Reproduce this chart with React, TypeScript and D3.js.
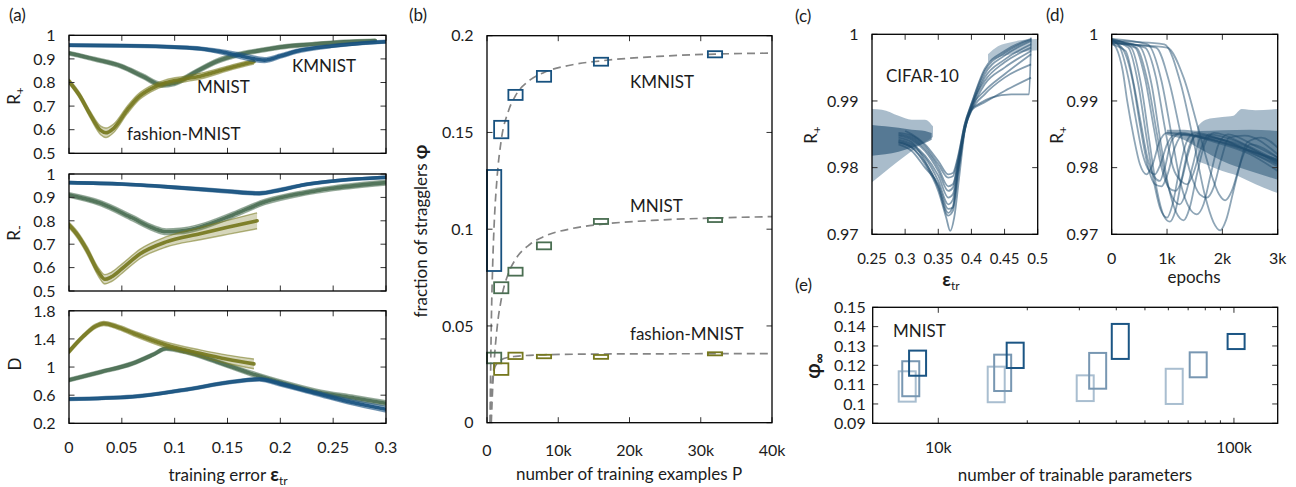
import React from 'react';
import * as d3 from 'd3';

type P2 = [number, number];
type P3 = [number, number, number];

const FONT = "Lato, 'Open Sans', 'DejaVu Sans', sans-serif";
const INK = '#1c1c1c';
const TICK = '#333';
const BLUE = '#17517f';
const GREEN = '#4a6e52';
const OLIVE = '#76781e';
const CIFAR = '#1f4d6f';
const DASH = '#858585';

// ---------------- (a) ----------------
const aXTicks = [0, 0.05, 0.1, 0.15, 0.2, 0.25, 0.3];
const rTicks = [0.5, 0.6, 0.7, 0.8, 0.9, 1];
const dTicks = [0.2, 0.6, 1, 1.4, 1.8];
// [training error, value, bundle half-width]
const kmnistRplus: P3[] = [[0,0.958,0.006],[0.05,0.956,0.006],[0.1,0.95,0.006],[0.125,0.943,0.007],[0.15,0.925,0.01],[0.17,0.905,0.012],[0.185,0.895,0.01],[0.2,0.912,0.009],[0.215,0.932,0.008],[0.25,0.955,0.006],[0.3,0.973,0.006]];
const mnistRplus: P3[] = [[0,0.924,0.008],[0.025,0.898,0.008],[0.05,0.868,0.009],[0.07,0.826,0.01],[0.088,0.79,0.01],[0.1,0.797,0.01],[0.12,0.845,0.01],[0.14,0.89,0.01],[0.16,0.918,0.009],[0.18,0.935,0.008],[0.2,0.95,0.008],[0.23,0.962,0.007],[0.26,0.972,0.007],[0.29,0.978,0.006]];
const fashionRplus: P3[] = [[0,0.805,0.01],[0.01,0.745,0.012],[0.02,0.665,0.014],[0.03,0.597,0.018],[0.035,0.587,0.02],[0.042,0.605,0.018],[0.055,0.683,0.016],[0.065,0.735,0.014],[0.077,0.772,0.013],[0.092,0.8,0.012],[0.11,0.815,0.012],[0.125,0.828,0.012],[0.155,0.866,0.01],[0.175,0.888,0.01]];
const kmnistRminus: P3[] = [[0,0.963,0.005],[0.05,0.957,0.005],[0.1,0.943,0.006],[0.15,0.926,0.007],[0.18,0.917,0.007],[0.2,0.932,0.007],[0.22,0.952,0.006],[0.25,0.97,0.005],[0.3,0.986,0.005]];
const mnistRminus: P3[] = [[0,0.91,0.01],[0.03,0.875,0.011],[0.06,0.812,0.012],[0.08,0.768,0.012],[0.092,0.753,0.012],[0.105,0.756,0.012],[0.125,0.775,0.012],[0.155,0.825,0.012],[0.185,0.88,0.011],[0.22,0.917,0.01],[0.25,0.939,0.01],[0.3,0.963,0.01]];
const fashionRminus: P3[] = [[0,0.782,0.012],[0.008,0.74,0.014],[0.017,0.675,0.016],[0.028,0.58,0.018],[0.034,0.55,0.02],[0.04,0.56,0.02],[0.05,0.595,0.02],[0.067,0.658,0.02],[0.092,0.71,0.022],[0.124,0.745,0.026],[0.15,0.772,0.03],[0.178,0.8,0.034]];
const kmnistD: P3[] = [[0,0.545,0.02],[0.06,0.578,0.02],[0.108,0.673,0.02],[0.155,0.79,0.022],[0.18,0.826,0.025],[0.2,0.76,0.03],[0.234,0.626,0.03],[0.265,0.507,0.035],[0.3,0.4,0.04]];
const mnistD: P3[] = [[0,0.816,0.025],[0.03,0.93,0.025],[0.06,1.05,0.025],[0.08,1.18,0.025],[0.092,1.265,0.025],[0.11,1.22,0.03],[0.14,1.076,0.03],[0.172,0.91,0.035],[0.203,0.77,0.035],[0.234,0.65,0.035],[0.27,0.56,0.035],[0.3,0.485,0.035]];
const fashionD: P3[] = [[0,1.22,0.03],[0.013,1.43,0.03],[0.025,1.58,0.03],[0.033,1.62,0.03],[0.045,1.575,0.03],[0.061,1.48,0.035],[0.092,1.313,0.04],[0.124,1.195,0.05],[0.15,1.11,0.06],[0.175,1.045,0.07]];

// ---------------- (b) ----------------
const bXTicks = [0, 10000, 20000, 30000, 40000];
const bYTicks = [0, 0.05, 0.1, 0.15, 0.2];
const straggP = [1000, 2000, 4000, 8000, 16000, 32000];
const kmnistLo = [0.0784, 0.147, 0.1668, 0.1762, 0.1845, 0.1888];
const kmnistHi = [0.1306, 0.156, 0.172, 0.1818, 0.1886, 0.192];
const mnistLo = [0.0307, 0.0669, 0.076, 0.0896, 0.1027, 0.1037];
const mnistHi = [0.0362, 0.0726, 0.0801, 0.0932, 0.1053, 0.1058];
const fashionP = [2000, 4000, 8000, 16000, 32000];
const fashionLo = [0.0247, 0.0329, 0.0333, 0.033, 0.0348];
const fashionHi = [0.0307, 0.0362, 0.0351, 0.035, 0.0364];
const kmnistFit: P2[] = [[420,0],[600,0.05],[800,0.082],[1000,0.102],[1400,0.126],[2000,0.146],[3000,0.161],[4000,0.169],[6000,0.177],[8000,0.181],[12000,0.185],[16000,0.187],[24000,0.1893],[32000,0.1905],[40000,0.191]];
const mnistFit: P2[] = [[600,0],[800,0.0182],[1000,0.0312],[1400,0.0485],[2000,0.0637],[3000,0.0771],[4000,0.0844],[6000,0.0921],[8000,0.0962],[12000,0.1004],[16000,0.1025],[24000,0.1047],[32000,0.1058],[40000,0.1065]];
const fashionFit: P2[] = [[500,0],[550,0.009],[600,0.0143],[700,0.0205],[800,0.0239],[1000,0.0275],[1400,0.0307],[2000,0.0325],[3000,0.0338],[4000,0.0343],[8000,0.0351],[16000,0.0355],[40000,0.0357]];

// ---------------- (c) ----------------
const cXTicks = [0.25, 0.3, 0.35, 0.4, 0.45, 0.5];
const cdYTicks = [0.97, 0.98, 0.99, 1];
const cifarErrCurves: P2[][] = [
  [[0.29,0.9838],[0.31,0.983],[0.33,0.9805],[0.35,0.9765],[0.362,0.9725],[0.368,0.9705],[0.374,0.9725],[0.382,0.979],[0.39,0.9855],[0.4,0.9885],[0.42,0.991],[0.45,0.9935],[0.49,0.9955]],
  [[0.29,0.9845],[0.31,0.9838],[0.33,0.981],[0.35,0.977],[0.365,0.9728],[0.372,0.9735],[0.38,0.979],[0.39,0.9857],[0.4,0.9887],[0.42,0.9925],[0.45,0.995],[0.49,0.9975]],
  [[0.29,0.984],[0.31,0.9832],[0.33,0.9815],[0.35,0.978],[0.365,0.9745],[0.372,0.9752],[0.38,0.98],[0.39,0.986],[0.4,0.989],[0.42,0.9935],[0.45,0.9962],[0.49,0.9985]],
  [[0.29,0.9848],[0.31,0.9842],[0.33,0.9825],[0.35,0.9795],[0.365,0.9765],[0.372,0.977],[0.38,0.981],[0.39,0.9862],[0.4,0.9892],[0.42,0.994],[0.45,0.9968],[0.49,0.999]],
  [[0.29,0.9852],[0.31,0.9848],[0.33,0.9832],[0.35,0.9805],[0.365,0.9785],[0.372,0.9787],[0.38,0.9815],[0.39,0.9865],[0.4,0.9895],[0.42,0.9945],[0.45,0.9972],[0.49,0.9992]],
  [[0.29,0.9835],[0.31,0.9825],[0.33,0.98],[0.35,0.9775],[0.365,0.9738],[0.372,0.974],[0.38,0.9795],[0.39,0.9858],[0.4,0.9888],[0.41,0.9895],[0.43,0.9905],[0.46,0.991],[0.487,0.991],[0.49,0.9995]],
  [[0.29,0.9842],[0.31,0.9835],[0.33,0.9818],[0.35,0.9788],[0.365,0.9755],[0.372,0.976],[0.38,0.9805],[0.39,0.986],[0.4,0.989],[0.42,0.9915],[0.45,0.994],[0.49,0.997]],
  [[0.29,0.985],[0.31,0.9845],[0.33,0.9828],[0.35,0.98],[0.365,0.9772],[0.372,0.9775],[0.38,0.9808],[0.39,0.9863],[0.4,0.9893],[0.42,0.993],[0.45,0.9958],[0.49,0.998]],
  [[0.29,0.9838],[0.31,0.983],[0.33,0.9808],[0.35,0.9772],[0.365,0.9732],[0.372,0.9742],[0.38,0.9798],[0.39,0.9856],[0.4,0.9886],[0.42,0.9898],[0.45,0.9915],[0.49,0.9935]],
  [[0.3,0.9855],[0.31,0.985],[0.33,0.9835],[0.35,0.981],[0.365,0.979],[0.372,0.9792],[0.38,0.9818],[0.39,0.9866],[0.4,0.9896],[0.42,0.9948],[0.45,0.9975],[0.49,0.9993]],
];
// [error, low, high]
const cifarErrOuter: P3[] = [[0.25,0.9778,0.9888],[0.265,0.979,0.9887],[0.29,0.981,0.9878],[0.31,0.9825,0.9872],[0.33,0.9838,0.9872],[0.342,0.9846,0.9862]];
const cifarErrInner: P3[] = [[0.25,0.9818,0.9864],[0.27,0.982,0.9862],[0.29,0.9824,0.986],[0.31,0.983,0.9857],[0.33,0.9837,0.9855],[0.34,0.9842,0.9852]];
const cifarErrTop: P3[] = [[0.425,0.9958,0.997],[0.44,0.9965,0.9982],[0.46,0.997,0.9988],[0.48,0.9974,0.9992],[0.5,0.9976,0.9993]];

// ---------------- (d) ----------------
const dXTicks = [0, 1000, 2000, 3000];
const cifarEpochCurves: P2[][] = [
  [[0,0.9988],[80,0.998],[200,0.9945],[280,0.99],[400,0.9845],[510,0.9805],[630,0.979],[740,0.9805],[860,0.9838],[1000,0.9852],[1500,0.9848],[2000,0.9838],[2500,0.9825],[3000,0.981]],
  [[0,0.9992],[150,0.998],[300,0.9935],[420,0.988],[560,0.982],[680,0.9795],[780,0.979],[880,0.9805],[1000,0.9835],[1150,0.985],[1600,0.9845],[2200,0.9832],[3000,0.9805]],
  [[0,0.9985],[250,0.9975],[400,0.9925],[520,0.987],[660,0.981],[780,0.9785],[870,0.978],[960,0.98],[1080,0.984],[1250,0.9852],[1800,0.984],[2500,0.982],[3000,0.9795]],
  [[0,0.999],[300,0.998],[480,0.9925],[620,0.985],[760,0.978],[880,0.9738],[1000,0.9725],[1100,0.9745],[1220,0.9795],[1350,0.9838],[1500,0.9852],[2000,0.9842],[2500,0.9825],[3000,0.9812]],
  [[0,0.9993],[350,0.998],[540,0.992],[680,0.984],[820,0.9765],[940,0.9728],[1050,0.9719],[1150,0.9735],[1270,0.9785],[1400,0.9832],[1550,0.985],[2100,0.9838],[3000,0.9802]],
  [[0,0.9988],[420,0.998],[600,0.9935],[760,0.986],[900,0.98],[1030,0.977],[1150,0.9765],[1260,0.978],[1380,0.982],[1520,0.9848],[2000,0.9842],[2600,0.9822],[3000,0.9808]],
  [[0,0.9991],[500,0.9982],[720,0.9925],[880,0.984],[1030,0.977],[1170,0.9732],[1300,0.9721],[1410,0.974],[1540,0.979],[1680,0.9835],[1850,0.9852],[2400,0.9835],[3000,0.981]],
  [[0,0.9989],[600,0.998],[800,0.9935],[960,0.986],[1110,0.98],[1250,0.978],[1360,0.9775],[1470,0.979],[1600,0.9825],[1750,0.985],[2300,0.9838],[3000,0.9805]],
  [[0,0.9993],[650,0.9985],[900,0.993],[1080,0.985],[1250,0.9775],[1400,0.974],[1540,0.973],[1660,0.9745],[1790,0.979],[1930,0.9835],[2100,0.985],[2600,0.9832],[3000,0.9815]],
  [[0,0.9987],[800,0.998],[1050,0.9925],[1250,0.985],[1430,0.979],[1590,0.976],[1720,0.9755],[1840,0.977],[1970,0.981],[2120,0.9845],[2400,0.9848],[3000,0.982]],
  [[0,0.999],[950,0.9985],[1250,0.9925],[1480,0.984],[1680,0.976],[1840,0.9718],[1960,0.9706],[2070,0.9722],[2200,0.9765],[2340,0.981],[2500,0.9835],[3000,0.9815]],
  [[0,0.9986],[1000,0.998],[1300,0.9935],[1560,0.986],[1780,0.9795],[1940,0.976],[2050,0.9751],[2170,0.9765],[2300,0.98],[2450,0.9838],[2700,0.9845],[3000,0.983]],
  [[0,0.9992],[450,0.998],[660,0.9925],[820,0.985],[960,0.979],[1100,0.9755],[1230,0.9745],[1340,0.9762],[1470,0.9805],[1610,0.9845],[2100,0.984],[3000,0.9808]],
  [[0,0.999],[200,0.9978],[380,0.993],[520,0.986],[660,0.98],[780,0.9775],[900,0.9772],[1010,0.979],[1140,0.983],[1300,0.985],[1900,0.984],[3000,0.9812]],
];
const cifarEpochOuter: P3[] = [[1550,0.981,0.9862],[1700,0.9805,0.9872],[2000,0.9795,0.9876],[2200,0.979,0.9878],[2350,0.9785,0.9888],[2600,0.9775,0.9886],[3000,0.9762,0.9888]];
const cifarEpochInner: P3[] = [[1000,0.9849,0.9857],[1300,0.9842,0.9857],[1600,0.9828,0.9855],[2000,0.981,0.9856],[2500,0.9795,0.9857],[3000,0.9782,0.9855]];

// ---------------- (e) ----------------
const eYTicks = [0.09, 0.1, 0.11, 0.12, 0.13, 0.14, 0.15];
const eMajor = [10000, 100000];
const eMinor = [20000, 30000, 40000, 50000, 60000, 70000, 80000, 90000];
const paramsLight = [7850, 15700, 31400, 62800];
const lightLo = [0.1012, 0.1009, 0.1015, 0.1];
const lightHi = [0.1169, 0.1193, 0.1148, 0.1182];
const paramsMid = [8070, 16510, 34600, 75700];
const midLo = [0.104, 0.1067, 0.1079, 0.1138];
const midHi = [0.1221, 0.1255, 0.1264, 0.1267];
const paramsDark = [8510, 18200, 41260, 101700];
const darkLo = [0.1146, 0.1186, 0.1233, 0.1284];
const darkHi = [0.1276, 0.1317, 0.1414, 0.1362];

const fmt = (v: number) => String(+v.toFixed(3));
const fmtK = (v: number) => (v === 0 ? '0' : `${v / 1000}k`);

function Frame(p: {
  xs: any; ys: any; xTicks: number[]; yTicks: number[];
  xFmt?: (v: number) => string; yFmt: (v: number) => string;
  xLabY?: number; yGap?: number; yFont?: number; xFont?: number; xMinor?: number[];
}) {
  const [x0, x1] = p.xs.range();
  const [yb, yt] = p.ys.range();
  const L = 5.5;
  const yf = p.yFont ?? 16;
  const xf = p.xFont ?? 16;
  const gap = p.yGap ?? 13.5;
  return (
    <g>
      {p.xTicks.map((t) => (
        <g key={'x' + t}>
          <line x1={p.xs(t)} x2={p.xs(t)} y1={yb} y2={yb - L} stroke={TICK} strokeWidth={1} />
          <line x1={p.xs(t)} x2={p.xs(t)} y1={yt} y2={yt + L} stroke={TICK} strokeWidth={1} />
          {p.xFmt && (
            <text x={p.xs(t)} y={p.xLabY} textAnchor="middle" fontSize={xf} fill={INK}>{p.xFmt(t)}</text>
          )}
        </g>
      ))}
      {(p.xMinor || []).map((t) => (
        <g key={'m' + t}>
          <line x1={p.xs(t)} x2={p.xs(t)} y1={yb} y2={yb - 3} stroke={TICK} strokeWidth={1} />
          <line x1={p.xs(t)} x2={p.xs(t)} y1={yt} y2={yt + 3} stroke={TICK} strokeWidth={1} />
        </g>
      ))}
      {p.yTicks.map((t) => (
        <g key={'y' + t}>
          <line x1={x0} x2={x0 + L} y1={p.ys(t)} y2={p.ys(t)} stroke={TICK} strokeWidth={1} />
          <line x1={x1} x2={x1 - L} y1={p.ys(t)} y2={p.ys(t)} stroke={TICK} strokeWidth={1} />
          <text x={x0 - gap} y={p.ys(t) + yf * 0.36} textAnchor="end" fontSize={yf} fill={INK}>{p.yFmt(t)}</text>
        </g>
      ))}
      <rect x={x0} y={yt} width={x1 - x0} height={yb - yt} fill="none" stroke="#000" strokeWidth={1.3} />
    </g>
  );
}

function Clip({ id, xs, ys }: { id: string; xs: any; ys: any }) {
  const [x0, x1] = xs.range();
  const [yb, yt] = ys.range();
  return (
    <clipPath id={id}>
      <rect x={x0} y={yt} width={x1 - x0} height={yb - yt} />
    </clipPath>
  );
}

function Bundle({ data, xs, ys, color }: { data: P3[]; xs: any; ys: any; color: string }) {
  const area = d3.area<P3>().x((d) => xs(d[0])).y0((d) => ys(d[1] - d[2])).y1((d) => ys(d[1] + d[2])).curve(d3.curveMonotoneX);
  const mid = d3.line<P3>().x((d) => xs(d[0])).y((d) => ys(d[1])).curve(d3.curveMonotoneX);
  const hi = d3.line<P3>().x((d) => xs(d[0])).y((d) => ys(d[1] + d[2])).curve(d3.curveMonotoneX);
  const lo = d3.line<P3>().x((d) => xs(d[0])).y((d) => ys(d[1] - d[2])).curve(d3.curveMonotoneX);
  return (
    <g>
      <path d={area(data) || ''} fill={color} opacity={0.3} />
      <path d={hi(data) || ''} fill="none" stroke={color} strokeWidth={1.4} opacity={0.55} />
      <path d={lo(data) || ''} fill="none" stroke={color} strokeWidth={1.4} opacity={0.55} />
      <path d={mid(data) || ''} fill="none" stroke={color} strokeWidth={3.6} opacity={0.92} strokeLinecap="round" />
    </g>
  );
}

function Band({ data, xs, ys, color, opacity }: { data: P3[]; xs: any; ys: any; color: string; opacity: number }) {
  const area = d3.area<P3>().x((d) => xs(d[0])).y0((d) => ys(d[1])).y1((d) => ys(d[2])).curve(d3.curveMonotoneX);
  return <path d={area(data) || ''} fill={color} opacity={opacity} />;
}

export default function App() {
  // (a)
  const ax = d3.scaleLinear().domain([0, 0.3]).range([69, 386]);
  const ayTop = d3.scaleLinear().domain([0.5, 1]).range([153.3, 35.3]);
  const ayMid = d3.scaleLinear().domain([0.5, 1]).range([291, 174]);
  const ayBot = d3.scaleLinear().domain([0.2, 1.8]).range([423.3, 310.8]);
  // (b)
  const bx = d3.scaleLinear().domain([0, 40000]).range([487, 772]);
  const by = d3.scaleLinear().domain([0, 0.2]).range([422.7, 35.7]);
  const fitLine = d3.line<P2>().x((d) => bx(d[0])).y((d) => by(d[1])).curve(d3.curveMonotoneX);
  // (c)
  const cx = d3.scaleLinear().domain([0.25, 0.5]).range([872, 1037.7]);
  const cy = d3.scaleLinear().domain([0.97, 1]).range([234.3, 34.3]);
  const cLine = d3.line<P2>().x((d) => cx(d[0])).y((d) => cy(d[1])).curve(d3.curveMonotoneX);
  // (d)
  const dx = d3.scaleLinear().domain([0, 3000]).range([1111.7, 1277.7]);
  const dy = d3.scaleLinear().domain([0.97, 1]).range([234.3, 34.3]);
  const dLine = d3.line<P2>().x((d) => dx(d[0])).y((d) => dy(d[1])).curve(d3.curveMonotoneX);
  // (e)
  const ex = d3.scaleLog().domain([6000, 140600]).range([872.7, 1277.7]);
  const ey = d3.scaleLinear().domain([0.09, 0.15]).range([423.3, 307.3]);

  const bBox = (P: number[], lo: number[], hi: number[], color: string, key: string) =>
    P.map((p, i) => (
      <rect key={key + i} x={bx(p - 1000)} y={by(hi[i])} width={bx(p + 1000) - bx(p - 1000)}
        height={Math.max(by(lo[i]) - by(hi[i]), 0.5)} fill="none" stroke={color} strokeWidth={1.8} />
    ));
  const eBox = (P: number[], lo: number[], hi: number[], color: string, key: string) =>
    P.map((p, i) => (
      <rect key={key + i} x={ex(p) - 8.5} y={ey(hi[i])} width={17}
        height={ey(lo[i]) - ey(hi[i])} fill="none" stroke={color} strokeWidth={2} />
    ));

  return (
    <svg width={1296} height={487} style={{ position: 'absolute', left: 0, top: 0, background: '#fff' }} fontFamily={FONT}>
      <defs>
        <Clip id="clA1" xs={ax} ys={ayTop} />
        <Clip id="clA2" xs={ax} ys={ayMid} />
        <Clip id="clA3" xs={ax} ys={ayBot} />
        <Clip id="clB" xs={bx} ys={by} />
        <Clip id="clC" xs={cx} ys={cy} />
        <Clip id="clD" xs={dx} ys={dy} />
        <Clip id="clE" xs={ex} ys={ey} />
      </defs>
      <rect width={1296} height={487} fill="#fff" />

      {/* ---------- (a) ---------- */}
      <text x={9} y={21} fontSize={17} fill={INK}>(a)</text>
      <g clipPath="url(#clA1)">
        <Bundle data={mnistRplus} xs={ax} ys={ayTop} color={GREEN} />
        <Bundle data={fashionRplus} xs={ax} ys={ayTop} color={OLIVE} />
        <Bundle data={kmnistRplus} xs={ax} ys={ayTop} color={BLUE} />
      </g>
      <Frame xs={ax} ys={ayTop} xTicks={aXTicks} yTicks={rTicks} yFmt={fmt} />
      <text x={292} y={72} fontSize={17} fill={INK}>KMNIST</text>
      <text x={197} y={93} fontSize={17} fill={INK}>MNIST</text>
      <text x={127} y={140} fontSize={17} fill={INK}>fashion-MNIST</text>
      <text transform="translate(20,96) rotate(-90)" textAnchor="middle" fontSize={17} fill={INK}>
        R<tspan dy={4} fontSize={12}>+</tspan>
      </text>

      <g clipPath="url(#clA2)">
        <Bundle data={mnistRminus} xs={ax} ys={ayMid} color={GREEN} />
        <Bundle data={fashionRminus} xs={ax} ys={ayMid} color={OLIVE} />
        <Bundle data={kmnistRminus} xs={ax} ys={ayMid} color={BLUE} />
      </g>
      <Frame xs={ax} ys={ayMid} xTicks={aXTicks} yTicks={rTicks} yFmt={fmt} />
      <text transform="translate(20,233) rotate(-90)" textAnchor="middle" fontSize={17} fill={INK}>
        R<tspan dy={4} fontSize={13}>-</tspan>
      </text>

      <g clipPath="url(#clA3)">
        <Bundle data={mnistD} xs={ax} ys={ayBot} color={GREEN} />
        <Bundle data={fashionD} xs={ax} ys={ayBot} color={OLIVE} />
        <Bundle data={kmnistD} xs={ax} ys={ayBot} color={BLUE} />
      </g>
      <Frame xs={ax} ys={ayBot} xTicks={aXTicks} yTicks={dTicks} yFmt={fmt} xFmt={fmt} xLabY={453} />
      <text transform="translate(21,364) rotate(-90)" textAnchor="middle" fontSize={17} fill={INK}>D</text>
      <text x={228} y={481} textAnchor="middle" fontSize={17} fill={INK}>
        training error <tspan fontWeight="bold" fontSize={19}>ε</tspan><tspan dy={4} fontSize={12}>tr</tspan>
      </text>

      {/* ---------- (b) ---------- */}
      <text x={409} y={21} fontSize={17} fill={INK}>(b)</text>
      <g clipPath="url(#clB)">
        <path d={fitLine(kmnistFit) || ''} fill="none" stroke={DASH} strokeWidth={1.7} strokeDasharray="8,5" />
        <path d={fitLine(mnistFit) || ''} fill="none" stroke={DASH} strokeWidth={1.7} strokeDasharray="8,5" />
        <path d={fitLine(fashionFit) || ''} fill="none" stroke={DASH} strokeWidth={1.7} strokeDasharray="8,5" />
      </g>
      {bBox(straggP, kmnistLo, kmnistHi, BLUE, 'k')}
      {bBox(straggP, mnistLo, mnistHi, GREEN, 'm')}
      {bBox(fashionP, fashionLo, fashionHi, OLIVE, 'f')}
      <Frame xs={bx} ys={by} xTicks={bXTicks} yTicks={bYTicks} yFmt={fmt} xFmt={fmtK} xLabY={456} />
      <text x={630} y={88} fontSize={17} fill={INK}>KMNIST</text>
      <text x={630} y={212} fontSize={17} fill={INK}>MNIST</text>
      <text x={630} y={340} fontSize={17} fill={INK}>fashion-MNIST</text>
      <text transform="translate(427,231) rotate(-90)" textAnchor="middle" fontSize={17} fill={INK}>
        fraction of stragglers <tspan fontWeight="bold" fontSize={19}>φ</tspan>
      </text>
      <text x={629} y={480} textAnchor="middle" fontSize={17} fill={INK}>number of training examples P</text>

      {/* ---------- (c) ---------- */}
      <text x={795} y={22} fontSize={17} fill={INK}>(c)</text>
      <g clipPath="url(#clC)">
        <Band data={cifarErrOuter} xs={cx} ys={cy} color="#93abbe" opacity={0.8} />
        <Band data={cifarErrInner} xs={cx} ys={cy} color={CIFAR} opacity={0.6} />
        <Band data={cifarErrTop} xs={cx} ys={cy} color="#93abbe" opacity={0.7} />
        {cifarErrCurves.map((c, i) => (
          <path key={i} d={cLine(c) || ''} fill="none" stroke={CIFAR} strokeWidth={1.8} opacity={0.55} />
        ))}
      </g>
      <Frame xs={cx} ys={cy} xTicks={cXTicks} yTicks={cdYTicks} yFmt={fmt} xFmt={fmt} xLabY={264} xFont={15} />
      <text x={886} y={82} fontSize={17} fill={INK}>CIFAR-10</text>
      <text transform="translate(817,135) rotate(-90)" textAnchor="middle" fontSize={17} fill={INK}>
        R<tspan dy={4} fontSize={12}>+</tspan>
      </text>
      <text x={951} y={286} textAnchor="middle" fontSize={17} fill={INK}>
        <tspan fontWeight="bold" fontSize={19}>ε</tspan><tspan dy={4} fontSize={12}>tr</tspan>
      </text>

      {/* ---------- (d) ---------- */}
      <text x={1046} y={21} fontSize={17} fill={INK}>(d)</text>
      <g clipPath="url(#clD)">
        <Band data={cifarEpochOuter} xs={dx} ys={dy} color="#93abbe" opacity={0.8} />
        <Band data={cifarEpochInner} xs={dx} ys={dy} color={CIFAR} opacity={0.5} />
        {cifarEpochCurves.map((c, i) => (
          <path key={i} d={dLine(c) || ''} fill="none" stroke={CIFAR} strokeWidth={1.8} opacity={0.5} />
        ))}
      </g>
      <Frame xs={dx} ys={dy} xTicks={dXTicks} yTicks={cdYTicks} yFmt={fmt} xFmt={fmtK} xLabY={264} />
      <text transform="translate(1063,135) rotate(-90)" textAnchor="middle" fontSize={17} fill={INK}>
        R<tspan dy={4} fontSize={12}>+</tspan>
      </text>
      <text x={1194} y={283} textAnchor="middle" fontSize={17} fill={INK}>epochs</text>

      {/* ---------- (e) ---------- */}
      <text x={795} y={291} fontSize={17} fill={INK}>(e)</text>
      {eBox(paramsLight, lightLo, lightHi, '#a9bed0', 'l')}
      {eBox(paramsMid, midLo, midHi, '#7897b2', 'md')}
      {eBox(paramsDark, darkLo, darkHi, '#1b5584', 'dk')}
      <Frame xs={ex} ys={ey} xTicks={eMajor} xMinor={eMinor} yTicks={eYTicks} yFmt={fmt}
        xFmt={(v) => `${v / 1000}k`} xLabY={453} yGap={7} yFont={16} />
      <text x={893} y={337} fontSize={17} fill={INK}>MNIST</text>
      <text transform="translate(820,366) rotate(-90)" textAnchor="middle" fontSize={20} fill={INK}>
        <tspan fontWeight="bold">φ</tspan><tspan dy={4} fontSize={14} fontWeight="bold">∞</tspan>
      </text>
      <text x={1075} y={481} textAnchor="middle" fontSize={17} fill={INK}>number of trainable parameters</text>
    </svg>
  );
}
